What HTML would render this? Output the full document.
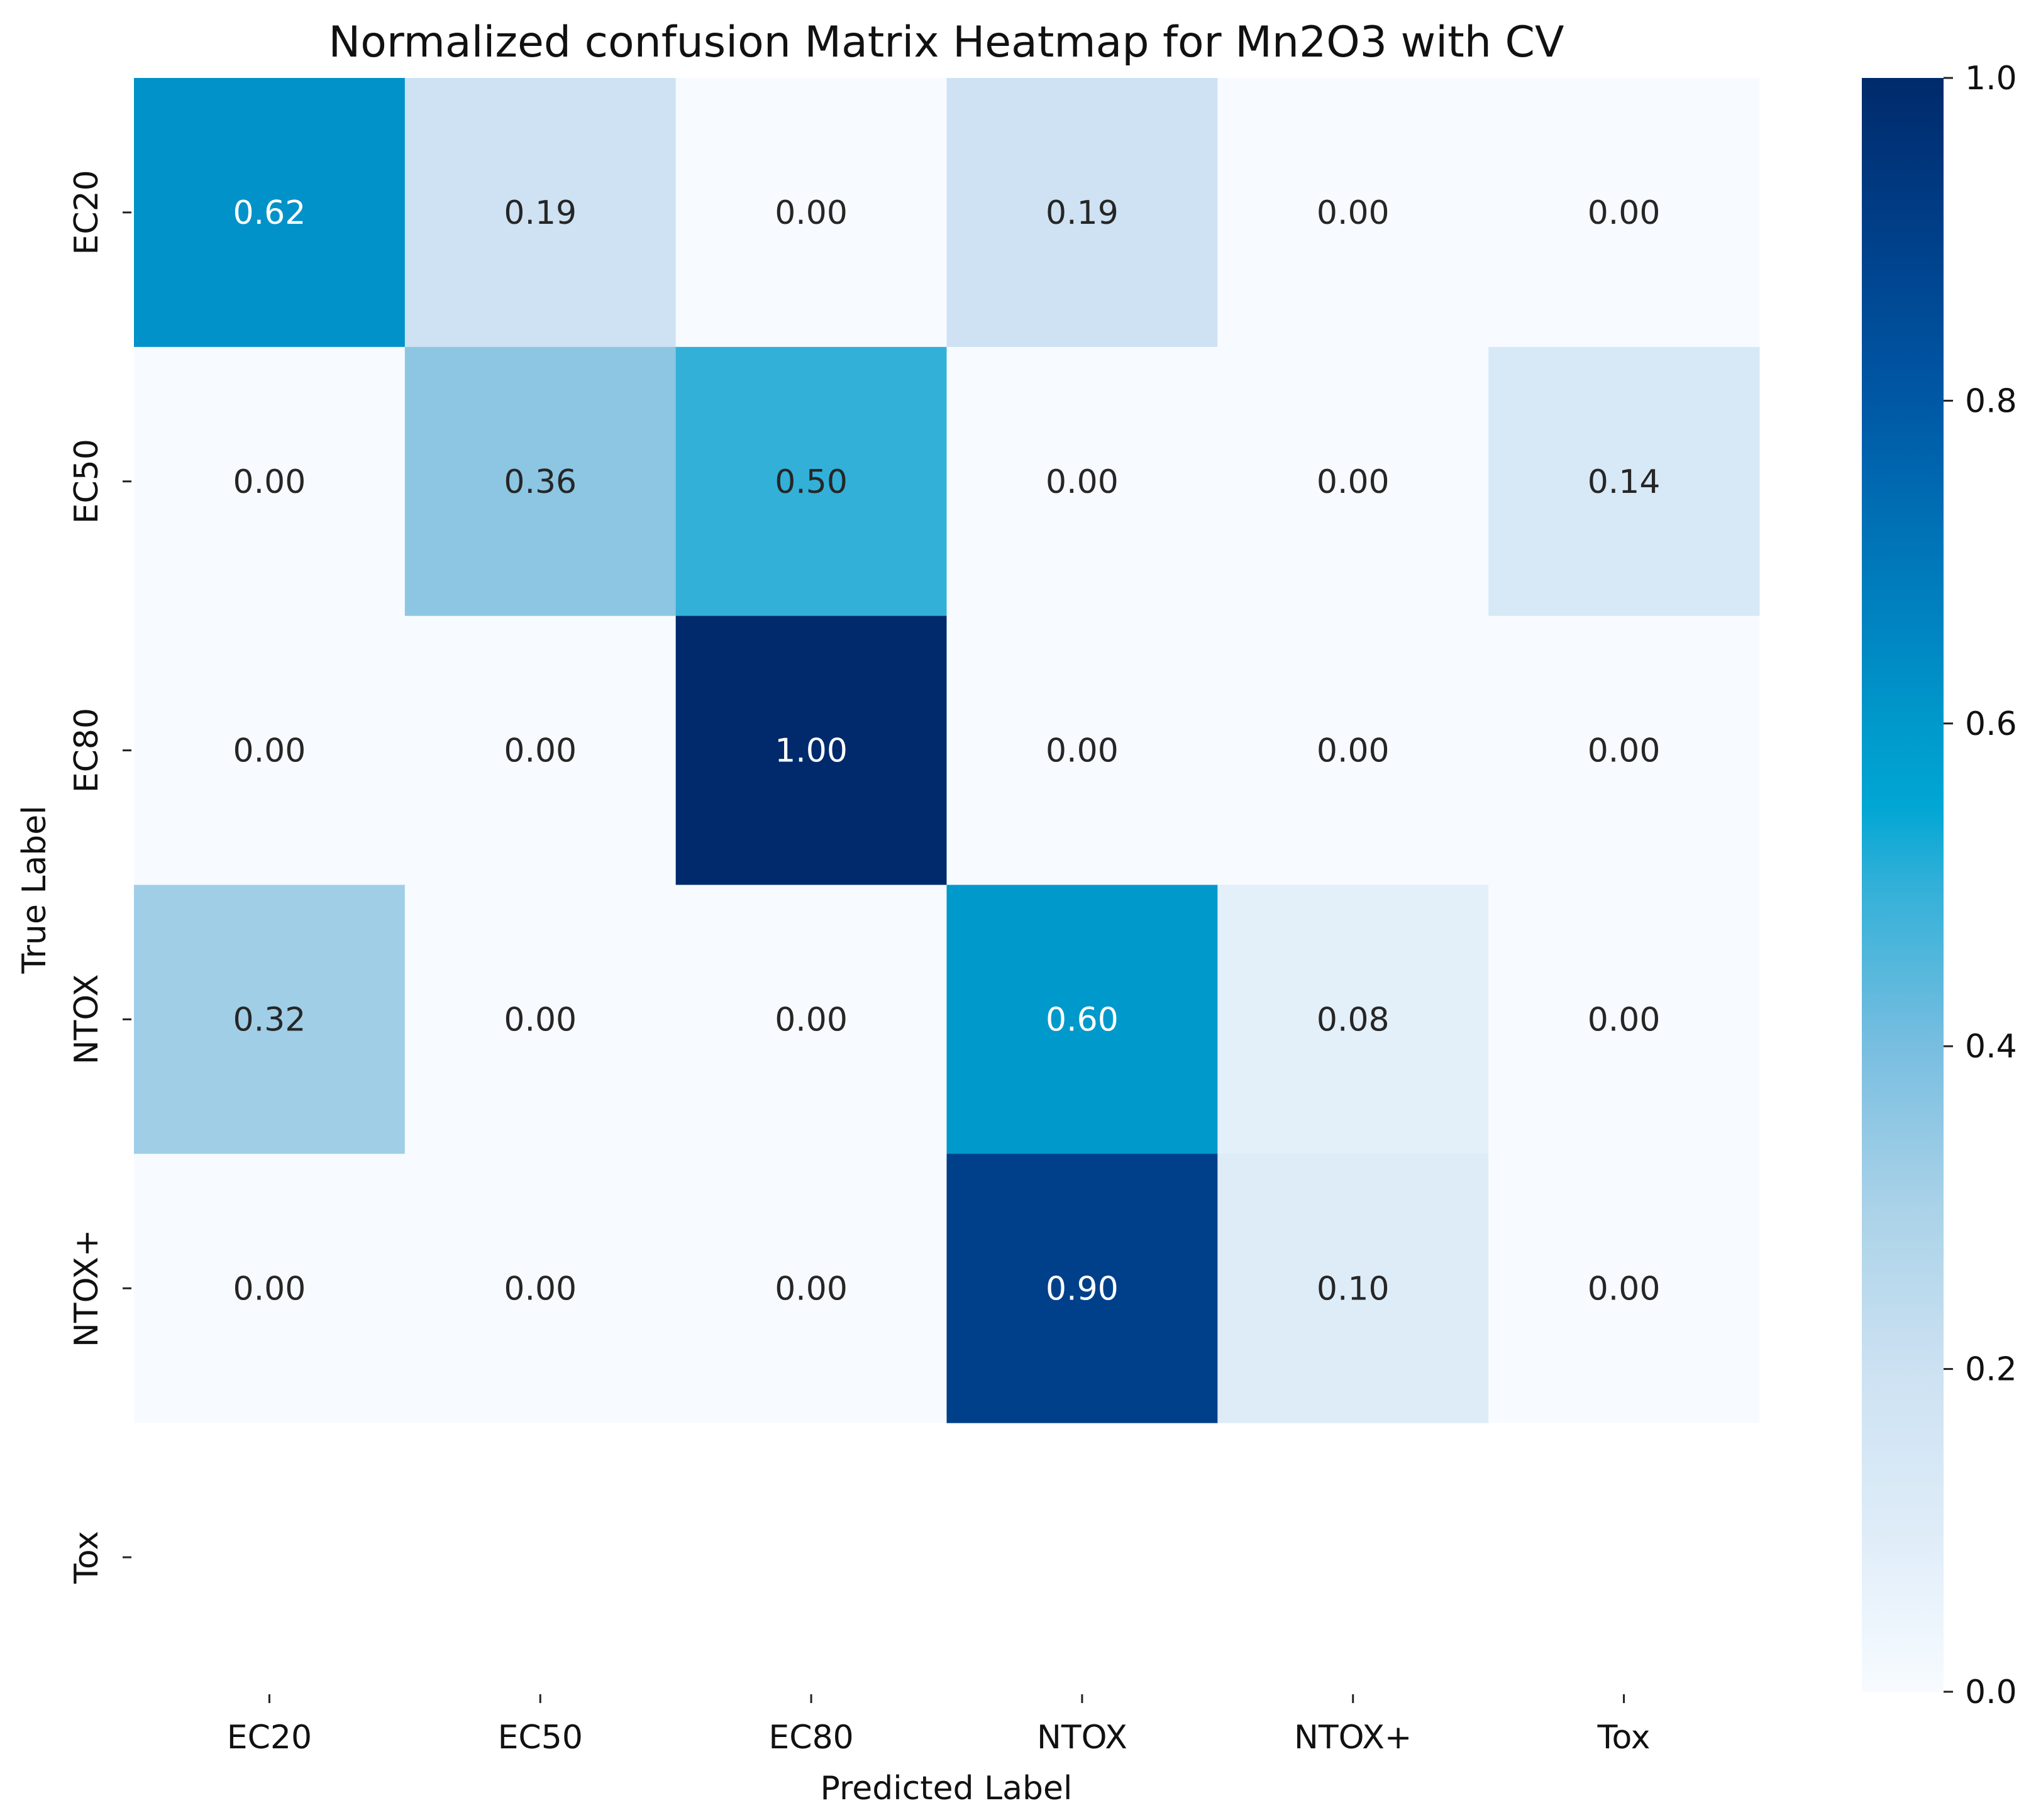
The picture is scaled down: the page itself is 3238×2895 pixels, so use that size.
<!DOCTYPE html>
<html><head><meta charset="utf-8"><style>
html,body{margin:0;padding:0;background:#fff}
svg{display:block;font-family:"DejaVu Sans","Liberation Sans",sans-serif}
</style></head><body>
<svg id="chart" width="3238" height="2895" viewBox="0 0 3238 2895">
<defs>
<linearGradient id="cbgrad" x1="0" y1="1" x2="0" y2="0"></linearGradient>
</defs>
<text x="1505" y="90" text-anchor="middle" font-size="68" fill="#111">Normalized confusion Matrix Heatmap for Mn2O3 with CV</text>
<g id="cells"></g>
<g id="axes"></g>
<text x="1505" y="2862" text-anchor="middle" font-size="52" fill="#111">Predicted Label</text>
<text transform="translate(72,1415) rotate(-90)" text-anchor="middle" font-size="52" fill="#111">True Label</text>
<rect x="2961" y="124" width="130" height="2567" fill="url(#cbgrad)"/>
<g id="cbticks"></g>
</svg>
<script>
const xLabels = ["EC20","EC50","EC80","NTOX","NTOX+","Tox"];
const yLabels = ["EC20","EC50","EC80","NTOX","NTOX+","Tox"];
const rowEC20 = [0.62,0.19,0.00,0.19,0.00,0.00];
const rowEC50 = [0.00,0.36,0.50,0.00,0.00,0.14];
const rowEC80 = [0.00,0.00,1.00,0.00,0.00,0.00];
const rowNTOX = [0.32,0.00,0.00,0.60,0.08,0.00];
const rowNTOXp = [0.00,0.00,0.00,0.90,0.10,0.00];
const rowTox = [null,null,null,null,null,null];
const matrix = [rowEC20,rowEC50,rowEC80,rowNTOX,rowNTOXp,rowTox];
const cbTicks = [0.0,0.2,0.4,0.6,0.8,1.0];

const NS="http://www.w3.org/2000/svg";
const L=213,R=2798,T=124,B=2691;
const cw=(R-L)/xLabels.length, ch=(B-T)/yLabels.length;
const xs=i=>L+i*cw, ys=j=>T+j*ch;
const stops=[[0,[247,251,255]],[0.1,[222,236,248]],[0.2,[204,225,242]],[0.3,[170,210,232]],[0.4,[120,190,224]],[0.5,[50,176,216]],[0.55,[0,166,212]],[0.6,[0,153,203]],[0.7,[0,120,186]],[0.8,[0,88,165]],[0.9,[0,64,138]],[1,[0,42,107]]];
function cmap(v){for(let k=1;k<stops.length;k++){if(v<=stops[k][0]){const a=stops[k-1],b=stops[k];const t=(v-a[0])/(b[0]-a[0]);return "rgb("+a[1].map((c,i)=>Math.round(c+(b[1][i]-c)*t)).join(",")+")";}}return "rgb(0,42,107)";}
function el(tag,attrs,parent){const e=document.createElementNS(NS,tag);for(const k in attrs)e.setAttribute(k,attrs[k]);parent.appendChild(e);return e;}
const cells=document.getElementById("cells");
matrix.forEach((row,j)=>row.forEach((v,i)=>{
  if(v===null)return;
  const r=el("rect",{x:xs(i),y:ys(j),width:cw+0.5,height:ch+0.5,fill:cmap(v)},cells);
  
  
  const t=el("text",{x:xs(i)+cw/2,y:ys(j)+ch/2+18,"text-anchor":"middle","font-size":52,fill:v>0.55?"#fff":"#262626"},cells);
  
  
  t.textContent=v.toFixed(2);
}));
const axes=document.getElementById("axes");
xLabels.forEach((lab,i)=>{
  const cx=xs(i)+cw/2;
  el("line",{x1:cx,y1:B+4,x2:cx,y2:B+18,stroke:"#222","stroke-width":3},axes);
  const t=el("text",{x:cx,y:2781,"text-anchor":"middle","font-size":52,fill:"#111"},axes);
  
  
  t.textContent=lab;
});
yLabels.forEach((lab,j)=>{
  const cy=ys(j)+ch/2;
  el("line",{x1:L-18,y1:cy,x2:L-4,y2:cy,stroke:"#222","stroke-width":3},axes);
  const t=el("text",{transform:"translate(155,"+cy+") rotate(-90)","text-anchor":"middle","font-size":52,fill:"#111"},axes);
  
  
  t.textContent=lab;
});
const g=document.getElementById("cbgrad");
for(let k=0;k<=20;k++){const v=k/20;el("stop",{offset:v,"stop-color":cmap(v)},g);}
const cbt=document.getElementById("cbticks");
cbTicks.forEach(v=>{
  const y=B-(B-T)*v;
  el("line",{x1:3091,y1:y,x2:3106,y2:y,stroke:"#222","stroke-width":3},cbt);
  const t=el("text",{x:3125,y:y+18,"font-size":52,fill:"#111"},cbt);
  
  
  t.textContent=v.toFixed(1);
});
</script>
</body></html>
